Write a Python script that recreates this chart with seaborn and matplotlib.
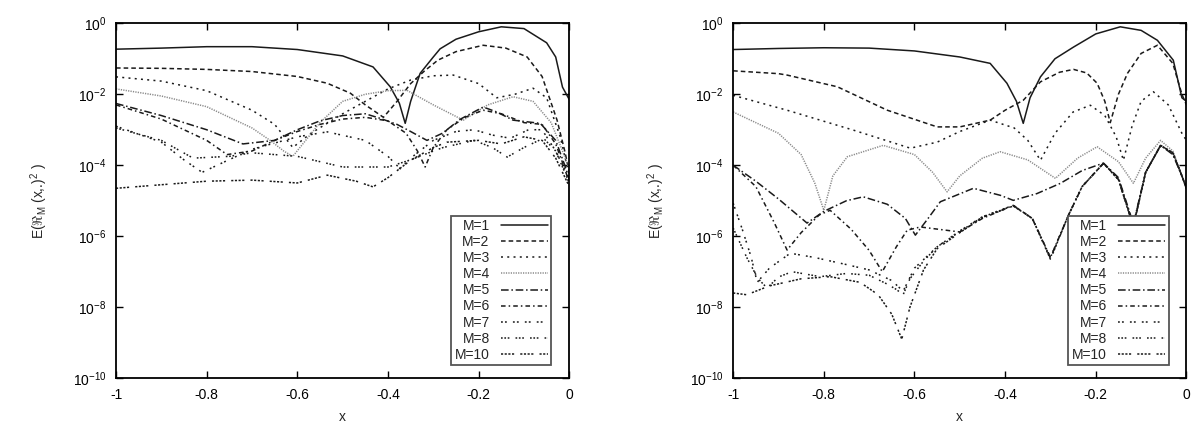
import numpy as np
import pandas as pd
import matplotlib
matplotlib.use("Agg")
import matplotlib.pyplot as plt
from matplotlib.lines import Line2D
from matplotlib.ticker import FixedLocator, LogFormatterSciNotation, NullLocator
import seaborn as sns

sns.set_style("ticks")
plt.rcParams["font.family"] = ["Liberation Sans", "DejaVu Sans"]
plt.rcParams["mathtext.fontset"] = "custom"
plt.rcParams["mathtext.rm"] = "Liberation Sans"
plt.rcParams["mathtext.it"] = "Liberation Sans:italic"
plt.rcParams["axes.unicode_minus"] = False

labels = ["M=1", "M=2", "M=3", "M=4", "M=5", "M=6", "M=7", "M=8", "M=10"]

# ---- left panel: x positions and log10 of E ----
l1_x = [-1, -0.9, -0.8, -0.7, -0.6, -0.5, -0.433, -0.395, -0.375, -0.362, -0.35, -0.329, -0.3, -0.285, -0.25, -0.2, -0.15, -0.1, -0.05, -0.03, -0.015, 0]
l1_y = [-0.73, -0.70, -0.66, -0.66, -0.74, -0.92, -1.23, -1.79, -2.25, -2.82, -2.2, -1.41, -0.95, -0.72, -0.45, -0.24, -0.1, -0.15, -0.55, -0.95, -1.8, -2.15]
l2_x = [-1, -0.9, -0.8, -0.7, -0.6, -0.534, -0.483, -0.45, -0.41, -0.38, -0.35, -0.32, -0.29, -0.25, -0.19, -0.14, -0.093, -0.06, -0.027, -0.01, 0]
l2_y = [-1.26, -1.27, -1.3, -1.36, -1.5, -1.69, -1.97, -2.3, -2.65, -2.2, -1.7, -1.35, -1.04, -0.8, -0.62, -0.7, -0.95, -1.5, -2.73, -3.6, -4.2]
l3_x = [-1, -0.9, -0.8, -0.7, -0.65, -0.61, -0.57, -0.5, -0.45, -0.4, -0.35, -0.3, -0.256, -0.2, -0.16, -0.12, -0.08, -0.05, -0.02, 0]
l3_y = [-1.51, -1.63, -1.9, -2.45, -2.85, -3.5, -3.1, -2.55, -2.2, -1.85, -1.6, -1.48, -1.46, -1.7, -2.1, -2.0, -1.83, -2.1, -3.2, -4.3]
l4_x = [-1, -0.9, -0.8, -0.7, -0.66, -0.63, -0.61, -0.55, -0.5, -0.45, -0.4, -0.358, -0.3, -0.234, -0.18, -0.124, -0.08, -0.04, -0.015, 0]
l4_y = [-1.85, -2.05, -2.35, -2.95, -3.3, -3.6, -3.75, -2.8, -2.2, -2.0, -1.9, -1.89, -2.3, -2.73, -2.3, -2.07, -2.2, -2.8, -3.6, -4.1]
l5_x = [-1, -0.9, -0.8, -0.72, -0.65, -0.6, -0.55, -0.5, -0.45, -0.417, -0.38, -0.35, -0.314, -0.28, -0.24, -0.19, -0.16, -0.124, -0.064, -0.03, -0.01, 0]
l5_y = [-2.26, -2.6, -3.0, -3.4, -3.3, -3.0, -2.75, -2.6, -2.55, -2.68, -2.85, -3.05, -3.3, -3.1, -2.7, -2.36, -2.5, -2.73, -2.82, -3.3, -4.0, -4.4]
l6_x = [-1, -0.9, -0.8, -0.755, -0.7, -0.65, -0.6, -0.55, -0.5, -0.45, -0.4, -0.36, -0.335, -0.318, -0.3, -0.27, -0.23, -0.19, -0.15, -0.1, -0.06, -0.03, -0.01, 0]
l6_y = [-2.3, -2.7, -3.3, -3.7, -3.6, -3.3, -3.05, -2.85, -2.7, -2.65, -2.75, -3.1, -3.6, -4.05, -3.5, -3.0, -2.65, -2.45, -2.55, -2.8, -2.85, -3.4, -4.1, -4.5]
l7_x = [-1, -0.9, -0.85, -0.81, -0.76, -0.7, -0.6, -0.534, -0.45, -0.4, -0.373, -0.35, -0.3, -0.25, -0.21, -0.17, -0.13, -0.09, -0.06, -0.03, 0]
l7_y = [-2.9, -3.35, -3.85, -4.2, -3.9, -3.55, -3.2, -3.06, -3.3, -3.75, -4.1, -3.8, -3.3, -3.05, -3.0, -3.15, -3.24, -3.0, -3.0, -3.6, -4.4]
l8_x = [-1, -0.9, -0.83, -0.75, -0.7, -0.6, -0.5, -0.4, -0.35, -0.3, -0.278, -0.21, -0.17, -0.137, -0.1, -0.057, -0.03, 0]
l8_y = [-2.95, -3.3, -3.8, -3.75, -3.65, -3.75, -4.05, -4.05, -3.85, -3.6, -3.5, -3.3, -3.5, -3.77, -3.5, -3.24, -3.6, -4.5]
l10_x = [-1, -0.9, -0.8, -0.7, -0.6, -0.534, -0.47, -0.433, -0.4, -0.35, -0.3, -0.27, -0.2, -0.15, -0.1, -0.06, -0.03, 0]
l10_y = [-4.65, -4.55, -4.45, -4.42, -4.5, -4.28, -4.45, -4.61, -4.35, -3.86, -3.5, -3.35, -3.3, -3.4, -3.2, -3.3, -3.8, -4.6]

# ---- right panel ----
r1_x = [-1, -0.9, -0.8, -0.7, -0.6, -0.5, -0.433, -0.396, -0.375, -0.36, -0.345, -0.322, -0.29, -0.249, -0.2, -0.146, -0.1, -0.064, -0.029, -0.01, 0]
r1_y = [-0.74, -0.71, -0.69, -0.70, -0.78, -0.95, -1.13, -1.69, -2.2, -2.82, -2.1, -1.51, -1.0, -0.67, -0.3, -0.1, -0.2, -0.48, -1.04, -2.1, -2.2]
r2_x = [-1, -0.9, -0.881, -0.77, -0.66, -0.55, -0.5, -0.433, -0.4, -0.36, -0.322, -0.28, -0.249, -0.22, -0.197, -0.18, -0.168, -0.15, -0.13, -0.1, -0.064, -0.03, -0.01, 0]
r2_y = [-1.34, -1.42, -1.46, -1.79, -2.45, -2.92, -2.92, -2.73, -2.45, -2.17, -1.65, -1.38, -1.3, -1.4, -1.69, -2.2, -2.8, -2.0, -1.41, -0.85, -0.62, -1.13, -2.0, -2.3]
r3_x = [-1, -0.881, -0.735, -0.609, -0.55, -0.5, -0.433, -0.38, -0.35, -0.322, -0.29, -0.25, -0.212, -0.18, -0.155, -0.139, -0.12, -0.1, -0.073, -0.04, -0.01, 0]
r3_y = [-2.03, -2.45, -3.01, -3.52, -3.35, -3.05, -2.73, -2.95, -3.3, -3.86, -3.1, -2.5, -2.31, -2.6, -3.2, -3.86, -2.9, -2.2, -1.93, -2.3, -3.1, -3.3]
r4_x = [-1, -0.9, -0.85, -0.82, -0.8, -0.78, -0.748, -0.669, -0.6, -0.56, -0.528, -0.5, -0.45, -0.411, -0.35, -0.289, -0.24, -0.197, -0.15, -0.117, -0.09, -0.057, -0.03, -0.01, 0]
r4_y = [-2.5, -3.1, -3.7, -4.5, -5.27, -4.3, -3.76, -3.44, -3.7, -4.2, -4.75, -4.3, -3.8, -3.62, -3.85, -4.37, -3.8, -3.48, -3.9, -4.51, -3.8, -3.3, -3.6, -4.3, -4.6]
r5_x = [-1, -0.95, -0.9, -0.837, -0.8, -0.75, -0.713, -0.66, -0.62, -0.598, -0.57, -0.543, -0.47, -0.41, -0.382, -0.33, -0.278, -0.23, -0.183, -0.15, -0.117, -0.09, -0.057, -0.03, -0.01, 0]
r5_y = [-4.0, -4.45, -4.95, -5.63, -5.3, -5.0, -4.89, -5.1, -5.5, -5.97, -5.5, -5.03, -4.65, -4.85, -4.99, -4.8, -4.51, -4.15, -3.94, -4.35, -5.65, -4.2, -3.44, -3.7, -4.3, -4.65]
r6_x = [-1, -0.95, -0.91, -0.881, -0.85, -0.81, -0.786, -0.74, -0.7, -0.671, -0.64, -0.616, -0.587, -0.55, -0.5, -0.45, -0.382, -0.34, -0.3, -0.26, -0.23, -0.183, -0.15, -0.117, -0.09, -0.057, -0.03, -0.01, 0]
r6_y = [-4.0, -4.6, -5.6, -6.39, -5.9, -5.4, -5.27, -5.8, -6.4, -7.0, -6.3, -5.83, -5.74, -5.8, -5.88, -5.5, -5.13, -5.5, -6.6, -5.4, -4.6, -3.94, -4.4, -5.7, -4.2, -3.44, -3.65, -4.3, -4.65]
r7_x = [-1, -0.98, -0.96, -0.947, -0.92, -0.874, -0.82, -0.75, -0.7, -0.65, -0.625, -0.6, -0.55, -0.5, -0.45, -0.382, -0.34, -0.3, -0.26, -0.23, -0.183, -0.15, -0.117, -0.09, -0.057, -0.03, -0.01, 0]
r7_y = [-5.07, -5.8, -6.6, -7.3, -6.9, -6.48, -6.6, -6.8, -6.95, -7.25, -7.55, -6.9, -6.3, -5.85, -5.45, -5.13, -5.5, -6.6, -5.4, -4.6, -3.94, -4.4, -5.7, -4.2, -3.44, -3.65, -4.3, -4.65]
r8_x = [-1, -0.97, -0.945, -0.925, -0.9, -0.87, -0.808, -0.75, -0.7, -0.66, -0.64, -0.625, -0.61, -0.58, -0.55, -0.5, -0.45, -0.382, -0.34, -0.3, -0.26, -0.23, -0.183, -0.15, -0.117, -0.09, -0.057, -0.03, -0.01, 0]
r8_y = [-5.77, -6.6, -7.2, -7.46, -7.15, -7.0, -7.14, -7.05, -7.1, -7.35, -7.5, -7.65, -7.2, -6.7, -6.3, -5.87, -5.46, -5.14, -5.5, -6.62, -5.4, -4.6, -3.95, -4.4, -5.72, -4.2, -3.45, -3.65, -4.3, -4.66]
r10_x = [-1, -0.97, -0.92, -0.85, -0.786, -0.72, -0.68, -0.65, -0.628, -0.61, -0.58, -0.55, -0.5, -0.45, -0.382, -0.34, -0.3, -0.26, -0.23, -0.183, -0.15, -0.117, -0.09, -0.057, -0.03, -0.01, 0]
r10_y = [-7.6, -7.65, -7.4, -7.2, -7.14, -7.3, -7.65, -8.2, -8.9, -8.0, -6.95, -6.35, -5.9, -5.47, -5.15, -5.5, -6.65, -5.4, -4.6, -3.95, -4.4, -5.75, -4.2, -3.45, -3.65, -4.3, -4.66]

left_curves = [(l1_x, l1_y), (l2_x, l2_y), (l3_x, l3_y), (l4_x, l4_y), (l5_x, l5_y),
               (l6_x, l6_y), (l7_x, l7_y), (l8_x, l8_y), (l10_x, l10_y)]
right_curves = [(r1_x, r1_y), (r2_x, r2_y), (r3_x, r3_y), (r4_x, r4_y), (r5_x, r5_y),
                (r6_x, r6_y), (r7_x, r7_y), (r8_x, r8_y), (r10_x, r10_y)]

# gnuplot-like line types
dashes = {
    "M=1": "",
    "M=2": (3, 2),
    "M=3": (1.3, 2.8),
    "M=4": (0.8, 0.8),
    "M=5": (5, 1.8, 1, 1.8),
    "M=6": (3, 2, 1, 2),
    "M=7": (1.2, 1.4, 1.2, 4),
    "M=8": (1.1, 1.1, 1.1, 1.1, 1.1, 4),
    "M=10": (1.4, 1, 1.4, 1, 1.4, 1, 1.4, 4),
}
palette = {m: "#1a1a1a" for m in labels}
palette["M=4"] = "#8a8a8a"


def make_df(curves):
    frames = []
    for lab, (xs, ys) in zip(labels, curves):
        frames.append(pd.DataFrame({"x": xs, "E": np.power(10.0, ys), "M": lab}))
    return pd.concat(frames, ignore_index=True)


def draw_panel(ax, curves):
    ax.set_yscale("log")
    df = make_df(curves)
    sns.lineplot(data=df, x="x", y="E", hue="M", style="M", hue_order=labels,
                 style_order=labels, palette=palette, dashes=dashes,
                 sort=False, estimator=None, linewidth=1.1, legend=False, ax=ax)
    ax.set_xlim(-1, 0)
    ax.set_ylim(1e-10, 1)
    ax.xaxis.set_major_locator(FixedLocator([-1, -0.8, -0.6, -0.4, -0.2, 0]))
    ax.set_xticklabels(["-1", "-0.8", "-0.6", "-0.4", "-0.2", "0"])
    ax.yaxis.set_major_locator(FixedLocator([1e-10, 1e-8, 1e-6, 1e-4, 1e-2, 1]))
    ax.yaxis.set_major_formatter(LogFormatterSciNotation())
    ax.yaxis.set_minor_locator(NullLocator())
    ax.tick_params(direction="in", top=True, right=True, length=5, width=1,
                   labelsize=10, pad=7, colors="black")
    for sp in ax.spines.values():
        sp.set_linewidth(1.3)
        sp.set_color("black")
    ax.set_xlabel("x", fontsize=10)
    ax.set_ylabel(r"E($\Re_{\mathrm{M}}$ (x,.)$^2$ )", fontsize=10)
    ax.xaxis.set_label_coords(0.5, -0.09)
    ax.yaxis.set_label_coords(-0.145, 0.5)

    handles = [Line2D([], [], color=palette[m], lw=1.1,
                      linestyle=(0, dashes[m]) if dashes[m] else "-") for m in labels]
    leg = ax.legend(handles, labels, loc="lower right", bbox_to_anchor=(0.976, 0.017),
                    markerfirst=False, fontsize=10, handlelength=3.4, handletextpad=0.8,
                    labelspacing=0.15, borderpad=0.25, fancybox=False, framealpha=1,
                    edgecolor="#555555")
    leg.get_frame().set_linewidth(1.3)


fig = plt.figure(figsize=(11.96, 4.23), dpi=100)
ax1 = fig.add_axes([0.097, 0.106, 0.379, 0.839])
ax2 = fig.add_axes([0.613, 0.106, 0.379, 0.839])
draw_panel(ax1, left_curves)
draw_panel(ax2, right_curves)

fig.savefig("out.png", dpi=100, facecolor="white")
